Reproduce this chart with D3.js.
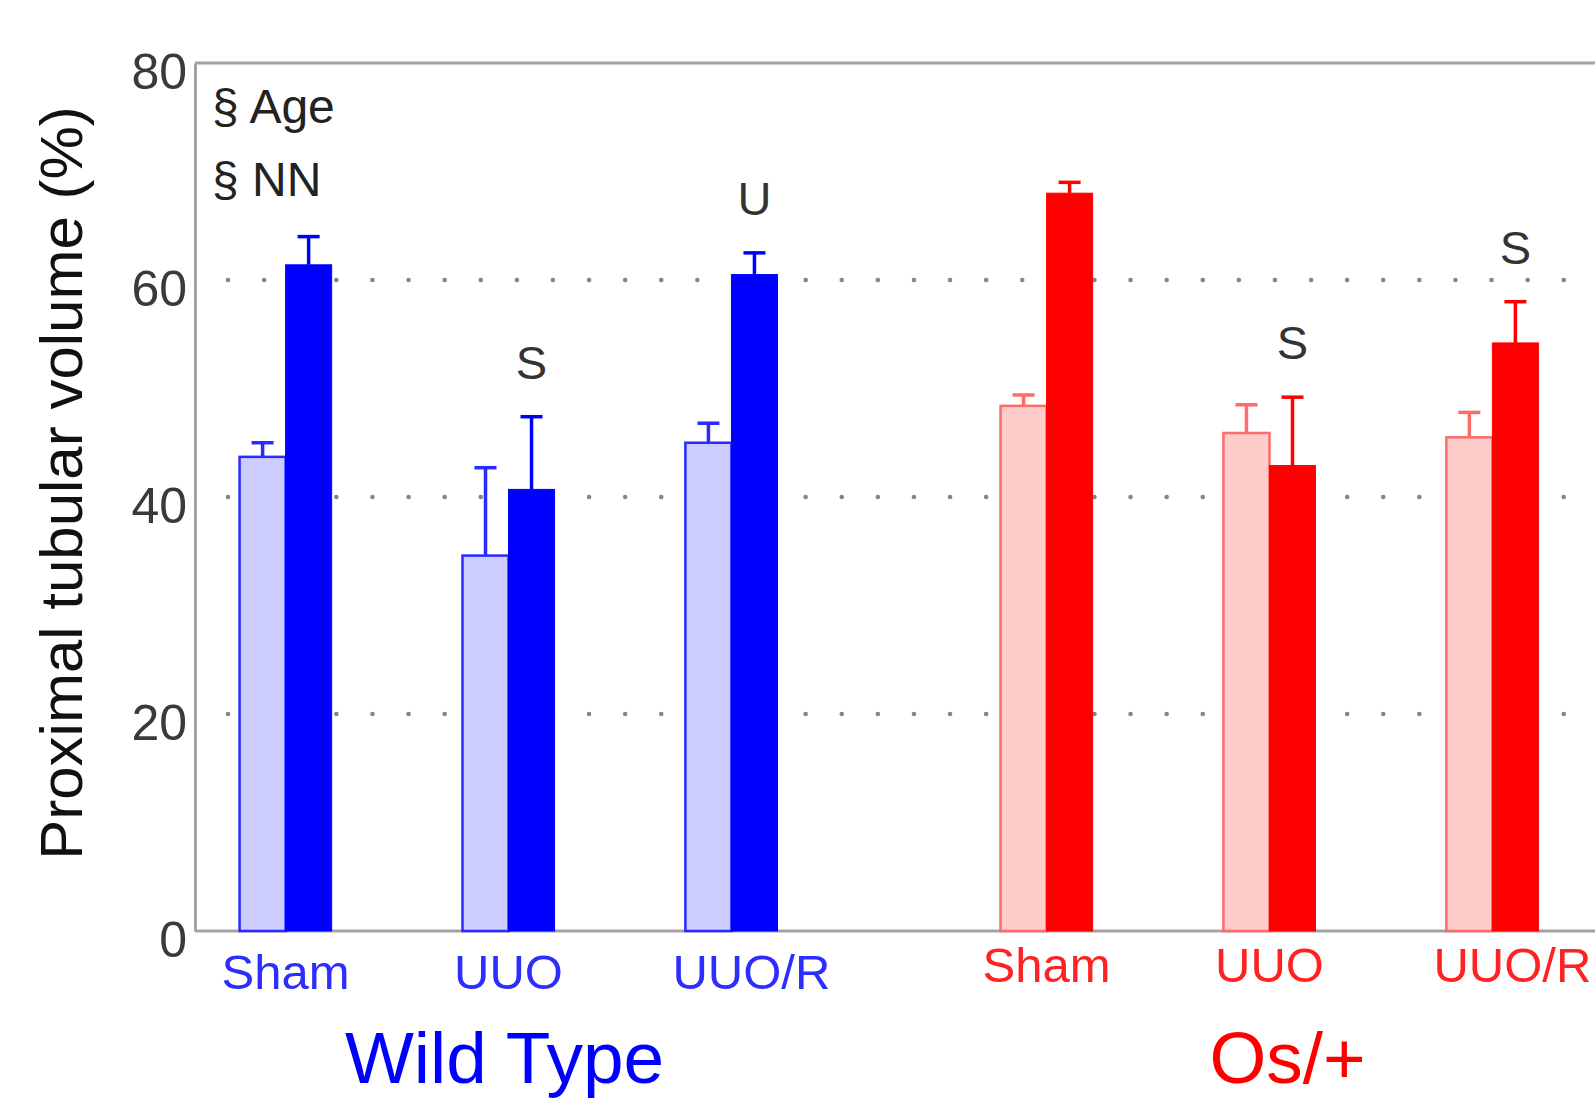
<!DOCTYPE html>
<html>
<head>
<meta charset="utf-8">
<script src="https://cdn.jsdelivr.net/npm/d3@7"></script>
<style>
  body { margin: 0; background: #fff; }
  text { font-family: "Liberation Sans", Arial, sans-serif; }
</style>
</head>
<body>
<div id="chart"></div>
<script>
// Data
var genotypes = ["Wild Type", "Os/+"];
var conditions = ["Sham", "UUO", "UUO/R"];
var seriesKeys = ["light", "dark"];
var yTicks = [0, 20, 40, 60, 80];
var gridTicks = [20, 40, 60];

// means and upper error (SE) per condition
var wtLight = [43.7, 34.6, 45.0];
var wtLightErr = [1.3, 8.1, 1.8];
var wtDark = [61.4, 40.7, 60.5];
var wtDarkErr = [2.6, 6.7, 2.0];
var osLight = [48.4, 45.9, 45.5];
var osLightErr = [1.0, 2.6, 2.3];
var osDark = [68.0, 42.9, 54.2];
var osDarkErr = [1.0, 6.3, 3.8];

// significance letters over the dark bars
var wtMarks = ["", "S", "U"];
var osMarks = ["", "S", "S"];

var statLines = ["§ Age", "§ NN"];

// Graph information
var width = 1595, height = 1099;
var margin = {top: 63, left: 195, bottom: 168};
var plotBottom = height - margin.bottom;

var svg = d3.select("#chart")
  .append("svg")
    .attr("width", width)
    .attr("height", height);

var colors = {
  "Wild Type": {dark: "#0000ff", light: "#ccccff", lightStroke: "#2a2aff", text: "#2d2dff"},
  "Os/+": {dark: "#ff0000", light: "#ffcccc", lightStroke: "#ff6a6a", text: "#ff2222"}
};

// build rows
var rows = [];
genotypes.forEach(function(g, gi) {
  var L = gi == 0 ? wtLight : osLight, LE = gi == 0 ? wtLightErr : osLightErr;
  var D = gi == 0 ? wtDark : osDark, DE = gi == 0 ? wtDarkErr : osDarkErr;
  var M = gi == 0 ? wtMarks : osMarks;
  conditions.forEach(function(c, ci) {
    rows.push({genotype: g, condition: c, series: "light", value: L[ci], err: LE[ci], mark: ""});
    rows.push({genotype: g, condition: c, series: "dark", value: D[ci], err: DE[ci], mark: M[ci]});
  });
});

// Scales
var x0 = d3.scaleBand()
  .domain(genotypes)
  .range([margin.left, 1583])
  .paddingInner(0.176)
  .paddingOuter(0);

var x1 = d3.scaleBand()
  .domain(conditions)
  .range([0, x0.bandwidth()])
  .paddingInner(0.587)
  .paddingOuter(0.2);

var x2 = d3.scaleBand()
  .domain(seriesKeys)
  .range([0, x1.bandwidth()]);

var y = d3.scaleLinear()
  .domain([0, 80])
  .range([plotBottom, margin.top]);

function barX(d) { return x0(d.genotype) + x1(d.condition) + x2(d.series); }

// dotted grid
svg.append("g")
  .selectAll("line")
  .data(gridTicks)
  .join("line")
    .attr("x1", margin.left + 33)
    .attr("x2", width)
    .attr("y1", d => y(d))
    .attr("y2", d => y(d))
    .attr("stroke", "#858585")
    .attr("stroke-width", 4.5)
    .attr("stroke-linecap", "round")
    .attr("stroke-dasharray", "0.1 36");

// frame
var frame = svg.append("g")
  .attr("fill", "none")
  .attr("stroke", "#a3a3a3")
  .attr("stroke-width", 3);
frame.append("line")
  .attr("x1", margin.left).attr("x2", width + 10)
  .attr("y1", y(80)).attr("y2", y(80));
frame.append("line")
  .attr("x1", margin.left).attr("x2", width + 10)
  .attr("y1", y(0)).attr("y2", y(0));

// Y axis
var yAxis = svg.append("g")
  .attr("transform", `translate(${margin.left},0)`)
  .call(d3.axisLeft(y).tickValues(yTicks).tickSize(0).tickPadding(8));
yAxis.select(".domain")
  .attr("stroke", "#a3a3a3")
  .attr("stroke-width", 3);
yAxis.selectAll("text")
  .attr("font-size", 50)
  .attr("font-family", "'Liberation Sans', Arial, sans-serif")
  .attr("fill", "#3a3a3a")
  .attr("dy", "0.5em");

// bars
svg.append("g")
  .selectAll("rect")
  .data(rows)
  .join("rect")
    .attr("x", d => barX(d))
    .attr("y", d => y(d.value))
    .attr("width", x2.bandwidth())
    .attr("height", d => y(0) - y(d.value))
    .attr("fill", d => colors[d.genotype][d.series])
    .attr("stroke", d => d.series == "light" ? colors[d.genotype].lightStroke : colors[d.genotype].dark)
    .attr("stroke-width", d => d.series == "light" ? 2.5 : 1);

// error bars (upper only)
var eb = svg.append("g")
  .selectAll("g")
  .data(rows)
  .join("g")
    .attr("stroke", d => d.series == "light" ? colors[d.genotype].lightStroke : colors[d.genotype].dark)
    .attr("stroke-width", 3.5);
eb.append("line")
  .attr("x1", d => barX(d) + x2.bandwidth() / 2)
  .attr("x2", d => barX(d) + x2.bandwidth() / 2)
  .attr("y1", d => y(d.value))
  .attr("y2", d => y(d.value + d.err));
eb.append("line")
  .attr("x1", d => barX(d) + x2.bandwidth() / 2 - 11)
  .attr("x2", d => barX(d) + x2.bandwidth() / 2 + 11)
  .attr("y1", d => y(d.value + d.err))
  .attr("y2", d => y(d.value + d.err));

// significance letters
svg.append("g")
  .selectAll("text")
  .data(rows.filter(d => d.mark != ""))
  .join("text")
    .attr("x", d => barX(d) + x2.bandwidth() / 2)
    .attr("y", d => y(d.value + d.err) - 38)
    .attr("text-anchor", "middle")
    .attr("font-size", 47)
    .attr("fill", "#333")
    .text(d => d.mark);

// category labels under each genotype
genotypes.forEach(function(g, gi) {
  var ax = svg.append("g")
    .attr("transform", `translate(${x0(g)},${plotBottom + (gi == 0 ? 14 : 7)})`)
    .call(d3.axisBottom(x1).tickSize(0).tickPadding(0));
  ax.select(".domain").remove();
  ax.selectAll("text")
    .attr("font-size", 49)
    .attr("font-family", "'Liberation Sans', Arial, sans-serif")
    .attr("fill", colors[g].text)
    .attr("dx", d => d == "UUO/R" ? 20 : 0)
    .attr("dy", "0.9em");
});

// genotype titles
svg.append("g")
  .selectAll("text")
  .data(genotypes)
  .join("text")
    .attr("x", d => x0(d) + x0.bandwidth() / 2 + (d == "Os/+" ? 18 : -4))
    .attr("y", 1083)
    .attr("text-anchor", "middle")
    .attr("font-size", 73)
    .attr("fill", d => colors[d].dark)
    .text(d => d);

// stats legend
svg.append("g")
  .selectAll("text")
  .data(statLines)
  .join("text")
    .attr("x", 212)
    .attr("y", (d, i) => 123 + i * 73)
    .attr("font-size", 48)
    .attr("fill", "#222")
    .text(d => d);

// Y axis title
svg.append("text")
  .attr("transform", `translate(82,${(y(0) + y(80)) / 2 - 14}) rotate(-90)`)
  .attr("text-anchor", "middle")
  .attr("font-size", 60)
  .attr("fill", "#111")
  .text("Proximal tubular volume (%)");
</script>
</body>
</html>
